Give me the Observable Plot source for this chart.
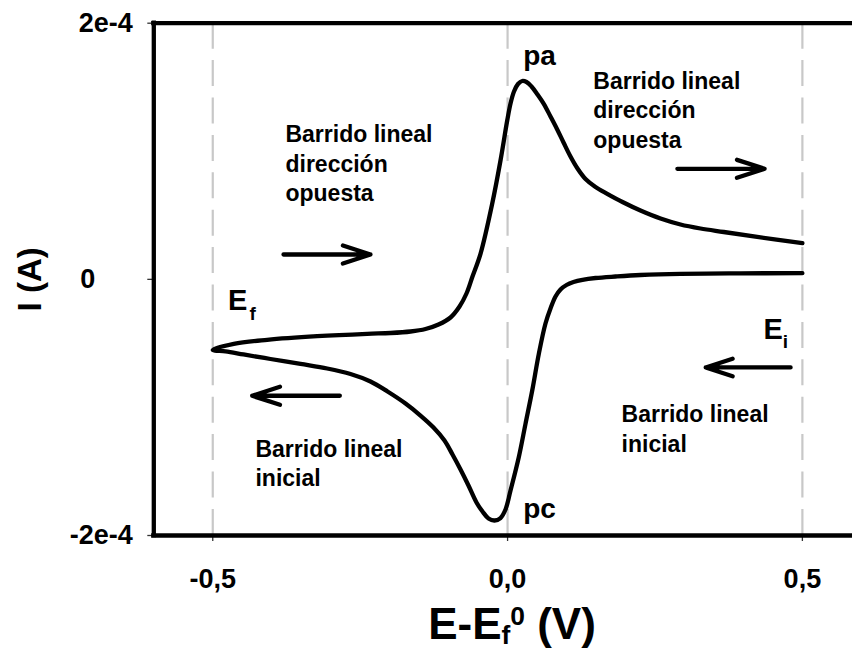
<!DOCTYPE html>
<html>
<head>
<meta charset="utf-8">
<script src="https://cdn.jsdelivr.net/npm/d3@7"></script>
<script src="https://cdn.jsdelivr.net/npm/@observablehq/plot@0.6"></script>
<style>
  html, body { margin: 0; padding: 0; background: #fff; overflow: hidden; }
  #wrap { position: relative; width: 852px; height: 652px; }
  #xtitle { position: absolute; left: 312px; width: 400px; top: 599px; text-align: center;
            font-family: "Liberation Sans", Arial, sans-serif; font-weight: bold; font-size: 44px;
            line-height: 50px; color: #000; white-space: nowrap; }
  #xtitle .sub { font-size: 0.6em; position: relative; top: 0.18em; }
  #xtitle .sup { font-size: 0.6em; position: relative; top: -0.52em; }
</style>
</head>
<body>
<div id="wrap">
  <div id="chart"></div>
  <div id="xtitle">E-E<span class="sub">f</span><span class="sup">0</span> (V)</div>
</div>
<script>
// ---- Data (E in V, I in units of 1e-4 A) ----
// Initial (cathodic) linear scan: from Ei = 0.5 V down to Ef = -0.5 V
const eForward = [0.500, 0.395, 0.2933, 0.2254, 0.1830, 0.1491, 0.1271, 0.1118, 0.0999, 0.0898, 0.0813, 0.0728, 0.0643, 0.0530, 0.0418, 0.0304, 0.0190, 0.0050, -0.0035, -0.0120, -0.0222, -0.0323, -0.0425, -0.0527, -0.0663, -0.0798, -0.0934, -0.1070, -0.1256, -0.1477, -0.1731, -0.2036, -0.2325, -0.2664, -0.3059, -0.3512, -0.4021, -0.4479, -0.4784, -0.500];
const iForward = [0.048, 0.047, 0.0433, 0.034, 0.0223, 0.0105, -0.0035, -0.0207, -0.0441, -0.0793, -0.1339, -0.2276, -0.3447, -0.5813, -0.8679, -1.1279, -1.3886, -1.6486, -1.797, -1.8634, -1.8829, -1.8673, -1.8126, -1.7424, -1.6096, -1.4847, -1.3676, -1.2582, -1.1567, -1.0631, -0.9694, -0.8757, -0.7976, -0.7390, -0.6961, -0.6609, -0.6219, -0.5867, -0.5633, -0.5501];
// Reverse linear scan: from Ef = -0.5 V back to 0.5 V
const eReverse = [-0.500, -0.4643, -0.4077, -0.3229, -0.2381, -0.1986, -0.1646, -0.1392, -0.1171, -0.0968, -0.0815, -0.0697, -0.0595, -0.0459, -0.0261, -0.0120, -0.0006, 0.0050, 0.0109, 0.0177, 0.0248, 0.0321, 0.0406, 0.0508, 0.0614, 0.0728, 0.0842, 0.0949, 0.1067, 0.1186, 0.1322, 0.1491, 0.1690, 0.1949, 0.2254, 0.2594, 0.2933, 0.3272, 0.3667, 0.4234, 0.500];
const iReverse = [-0.5501, -0.5032, -0.4720, -0.4439, -0.4251, -0.4189, -0.4072, -0.3877, -0.3525, -0.2979, -0.2120, -0.1105, 0.0223, 0.1995, 0.5899, 0.9280, 1.2403, 1.3730, 1.4667, 1.5253, 1.5487, 1.5409, 1.5058, 1.4433, 1.3707, 1.2715, 1.1700, 1.0685, 0.9592, 0.8655, 0.7835, 0.7211, 0.6680, 0.6039, 0.5376, 0.4751, 0.4283, 0.3970, 0.3697, 0.3307, 0.2823];

// Axes
const xDomain = [-0.6, 0.585];
const yDomain = [-2, 2];
const xTicks = [-0.5, 0, 0.5];
const xTickLabels = ["-0,5", "0,0", "0,5"];
const yTicks = [-2, 0, 2];
const yTickLabels = ["-2e-4", "0\u00a0\u00a0\u00a0\u00a0\u00a0", "2e-4"];
const gridX = [-0.5, 0, 0.5];
const yTitle = "I (A)";

// Annotations
const peakLabels = ["pa", "pc"];
const peakE = [0.0266, 0.0266];
const peakI = [1.670, -1.866];

const potLabels = ["E", "E"];
const potE = [-0.474, 0.434];
const potI = [-0.243, -0.469];
const potSubs = ["f", "i"];
const potSubE = [-0.4377, 0.4666];
const potSubI = [-0.321, -0.539];

const noteTexts = ["Barrido lineal\ndirección\nopuesta", "Barrido lineal\ndirección\nopuesta", "Barrido lineal\ninicial", "Barrido lineal\ninicial"];
const noteE = [-0.3767, 0.1454, 0.1934, -0.4276];
const noteI = [1.232, 1.650, -0.953, -1.224];

const arrowE1 = [-0.380, 0.288, -0.2845, 0.480];
const arrowE2 = [-0.2325, 0.436, -0.4332, 0.336];
const arrowI = [0.194, 0.863, -0.909, -0.688];

// ---- Build tables ----
const curve = [
  ...eForward.map((e, k) => ({E: e, I: iForward[k]})),
  ...eReverse.slice(1).map((e, k) => ({E: e, I: iReverse[k + 1]}))
];
const peaks = peakLabels.map((t, k) => ({t, E: peakE[k], I: peakI[k]}));
const pots = potLabels.map((t, k) => ({t, E: potE[k], I: potI[k]}));
const subs = potSubs.map((t, k) => ({t, E: potSubE[k], I: potSubI[k]}));
const notes = noteTexts.map((t, k) => ({t, E: noteE[k], I: noteI[k]}));
const arrows = arrowE1.map((e, k) => ({E1: e, E2: arrowE2[k], I: arrowI[k]}));

const FONT = "Liberation Sans, Arial, Helvetica, sans-serif";

const chart = Plot.plot({
  width: 852,
  height: 598,
  marginLeft: 153.3,
  marginRight: 0,
  marginTop: 22.7,
  marginBottom: 63,
  style: {fontFamily: FONT, fontWeight: "bold", background: "#fff", overflow: "visible"},
  x: {domain: xDomain},
  y: {domain: yDomain},
  marks: [
    Plot.ruleX(gridX, {stroke: "#c8c8c8", strokeWidth: 2.2, strokeDasharray: "26,11.4"}),
    Plot.line(curve, {x: "E", y: "I", curve: "catmull-rom", stroke: "#000", strokeWidth: 4.3, strokeLinejoin: "round"}),
    Plot.arrow(arrows, {x1: "E1", x2: "E2", y1: "I", y2: "I", stroke: "#000", strokeWidth: 4.3, headAngle: 36, headLength: 14}),
    Plot.text(notes, {x: "E", y: "I", text: "t", textAnchor: "start", lineAnchor: "top", lineHeight: 1.28, fontSize: 23, fontWeight: "bold", fontFamily: FONT, fill: "#000"}),
    Plot.text(peaks, {x: "E", y: "I", text: "t", textAnchor: "start", lineAnchor: "bottom", fontSize: 28, fontWeight: "bold", fontFamily: FONT, fill: "#000"}),
    Plot.text(pots, {x: "E", y: "I", text: "t", textAnchor: "start", lineAnchor: "bottom", fontSize: 29, fontWeight: "bold", fontFamily: FONT, fill: "#000"}),
    Plot.text(subs, {x: "E", y: "I", text: "t", textAnchor: "start", lineAnchor: "bottom", fontSize: 19, fontWeight: "bold", fontFamily: FONT, fill: "#000"}),
    Plot.axisX({ticks: xTicks, tickFormat: d => xTickLabels[xTicks.indexOf(d)], tickSize: 6, tickPadding: 27, fontSize: 27, fontWeight: "bold", fontFamily: FONT, stroke: "#333", strokeWidth: 1.3, fill: "#000", label: null}),
    Plot.axisY({ticks: yTicks, tickFormat: d => yTickLabels[yTicks.indexOf(d)], tickSize: 6, tickPadding: 15, fontSize: 27, fontWeight: "bold", fontFamily: FONT, stroke: "#333", strokeWidth: 1.3, fill: "#000", label: null}),
    Plot.ruleY([yDomain[0], yDomain[1]], {stroke: "#000", strokeWidth: 4.3, strokeLinecap: "square"}),
    Plot.ruleX([xDomain[0]], {stroke: "#000", strokeWidth: 4.3, strokeLinecap: "square"}),
    Plot.text([yTitle], {frameAnchor: "left", textAnchor: "middle", lineAnchor: "middle", rotate: -90, dx: -123, fontSize: 33, fontWeight: "bold", fontFamily: FONT, fill: "#000"})
  ]
});
document.getElementById("chart").appendChild(chart);
</script>
</body>
</html>
